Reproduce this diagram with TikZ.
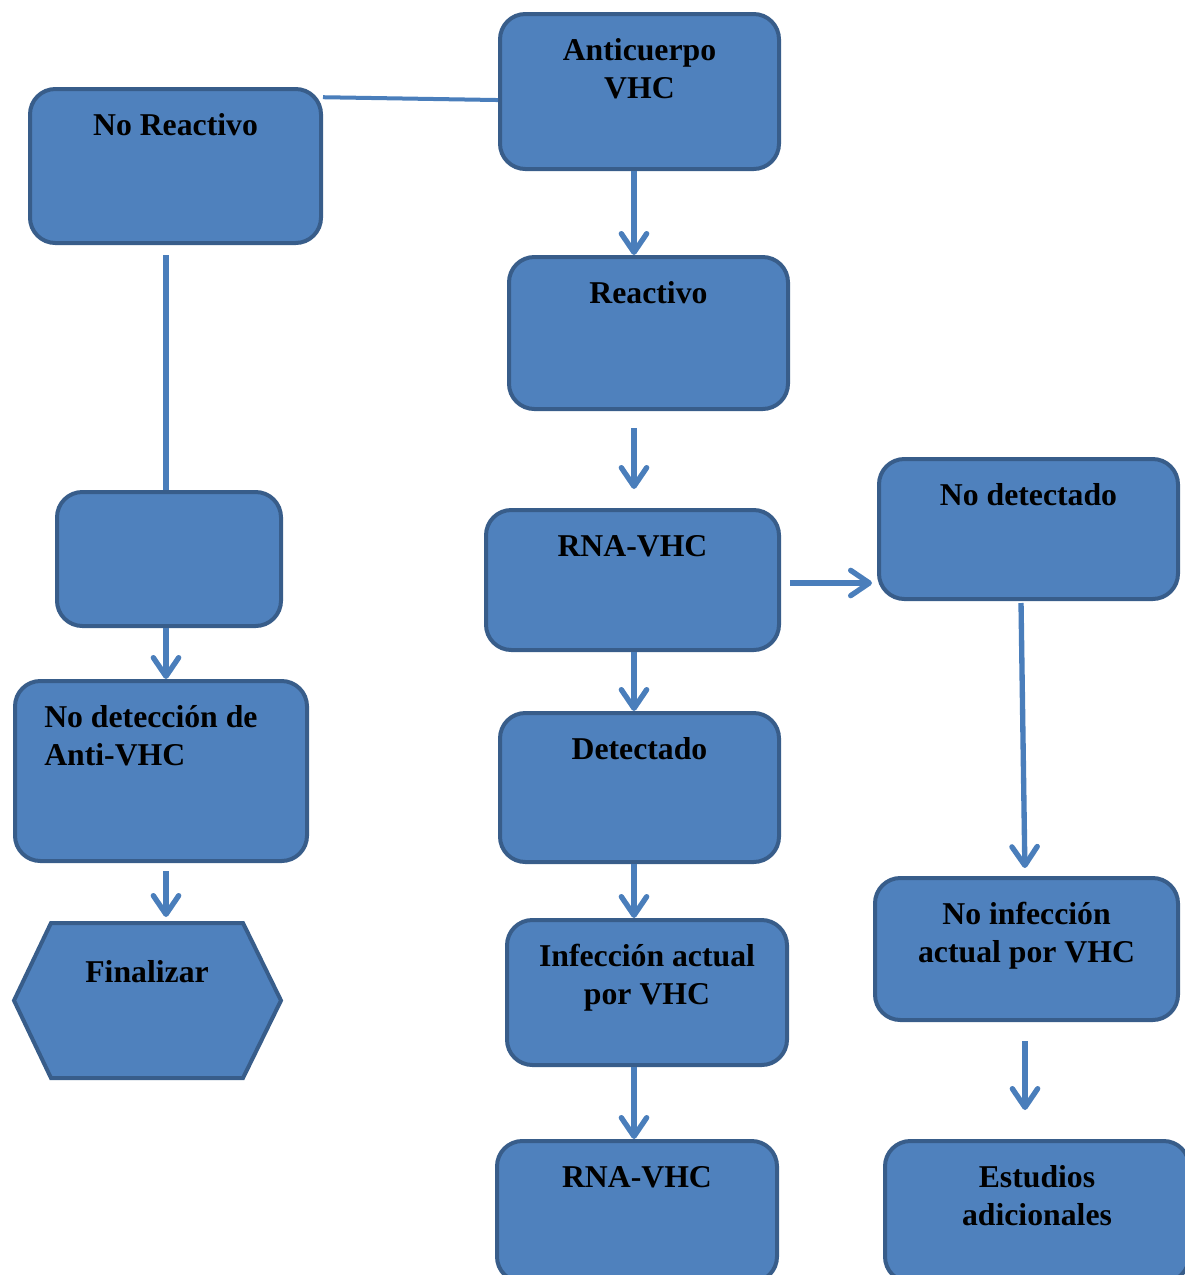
\documentclass[tikz,border=0pt]{standalone}
\usepackage{fontspec}
\setmainfont{Liberation Serif}
\usetikzlibrary{arrows.meta}

\definecolor{boxfill}{HTML}{4F81BD}
\definecolor{boxline}{HTML}{385D8A}
\definecolor{linkc}{HTML}{4A7EBB}

% strut that fixes the height of the first text line
\newcommand\fl{\rule{0pt}{0.8em}}

\tikzset{
  x=0.75pt, y=-0.75pt,
  box/.style={draw=boxline, fill=boxfill, line width=3pt,
              rounded corners=19pt, inner sep=0pt},
  sz/.style 2 args={minimum width=#1*0.75pt, minimum height=#2*0.75pt},
  txt/.style={inner sep=0pt, align=center,
              font=\fontsize{23.8}{28.5}\selectfont\bfseries},
  lbl/.style={txt, anchor=north, yshift=-17pt},
  link/.style={draw=linkc, line width=4pt},
  arr/.style={link, -{Straight Barb[length=14pt,width=19pt,round]}},
}

\begin{document}
\begin{tikzpicture}
\useasboundingbox (0,0) rectangle (1185,1275);

% ---- boxes ----
\node[box, sz={279}{155}, label={[lbl]north:{\fl Anticuerpo\\VHC}}] (anti) at (639.5,91.5) {};
\node[box, sz={291}{154}, label={[lbl]north:{\fl No Reactivo}}] (noreac) at (175.5,166) {};
\node[box, sz={279}{152}, label={[lbl]north:{\fl Reactivo}}] (reac) at (648.5,333) {};
\node[box, sz={293}{140}, label={[lbl]north:{\fl RNA-VHC}}] (rna1) at (632.5,580) {};
\node[box, sz={299}{140}, label={[lbl]north:{\fl No detectado}}] (nodet) at (1028.5,529) {};
\node[box, sz={224}{134}] (empty) at (169,559) {};
\node[box, sz={292}{180}, label={[lbl, anchor=north west, align=left, xshift=23.25pt]north west:{\fl No detección de\\Anti-VHC}}] (nodetanti) at (161,771) {};
\node[box, sz={279}{149}, label={[lbl]north:{\fl Detectado}}] (detect) at (639.5,787.5) {};
\node[box, sz={303}{142}, label={[lbl]north:{\fl No infección\\actual por VHC}}] (noinf) at (1026.5,949) {};
\node[box, sz={280}{145}, label={[lbl]north:{\fl Infección actual\\por VHC}}] (infec) at (647,992.5) {};
\node[box, sz={280}{141}, label={[lbl]north:{\fl RNA-VHC}}] (rna2) at (637,1211.5) {};
\node[box, sz={304}{141}, label={[lbl]north:{\fl Estudios\\adicionales}}] (estud) at (1037,1211.5) {};

% ---- end terminal (hexagon) ----
\draw[draw=boxline, fill=boxfill, line width=3pt, line join=miter]
  (51,923) -- (243,923) -- (281,1000.5) -- (243,1078) -- (51,1078) -- (14,1000.5) -- cycle;
\node[txt, anchor=base] (final) at (147,982) {Finalizar};
\coordinate (fintop) at (166,921);

% ---- columns and rows used by the connectors ----
\coordinate (cA) at (166,0);
\coordinate (cB) at (634,0);
\coordinate (cD1) at (1021,0);
\coordinate (cD2) at (1025,0);
\coordinate (rC) at (0,583);

% ---- connectors ----
\draw[link, line width=3pt] (noreac.25) -- ([yshift=-6.4pt]anti.west);
\draw[arr] (anti.south -| cB) -- (reac.north -| cB);
\draw[arr, shorten <=12.75pt, shorten >=14.25pt] (reac.south -| cB) -- (rna1.north -| cB);
\draw[arr, shorten <=6.75pt, shorten >=3.75pt] (rna1.east |- rC) -- (nodet.west |- rC);
\draw[arr, shorten <=1.5pt, shorten >=6pt] (nodet.south -| cD1) -- (noinf.north -| cD2);
\draw[arr, shorten <=14.25pt, shorten >=21.75pt] (noinf.south -| cD2) -- (estud.north -| cD2);
\draw[arr] (rna1.south -| cB) -- (detect.north -| cB);
\draw[arr] (detect.south -| cB) -- (infec.north -| cB);
\draw[arr] (infec.south -| cB) -- (rna2.north -| cB);

\draw[link, shorten <=7.5pt] (noreac.south -| cA) -- (empty.north -| cA);
\draw[arr] (empty.south -| cA) -- (nodetanti.north -| cA);
\draw[arr, shorten <=6pt, shorten >=3pt] (nodetanti.south -| cA) -- (fintop);
\end{tikzpicture}
\end{document}
